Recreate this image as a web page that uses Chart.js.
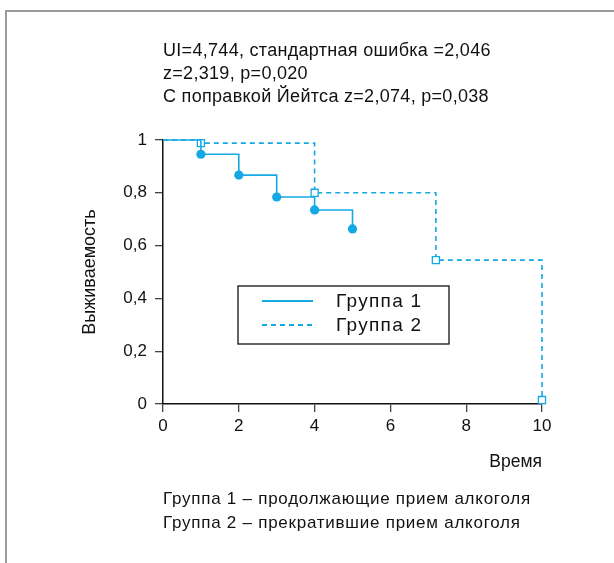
<!DOCTYPE html>
<html>
<head>
<meta charset="utf-8">
<script src="https://cdn.jsdelivr.net/npm/chart.js@4/dist/chart.umd.min.js"></script>
<style>
  html, body { margin: 0; padding: 0; background: #fff; }
  canvas { display: block; }
</style>
</head>
<body>
<canvas id="km" width="614" height="563"></canvas>
<script>
// Kaplan–Meier survival estimates for the two groups
const group1Time = [0, 1, 2, 3, 4, 5];
const group1Surv = [1, 0.946, 0.867, 0.784, 0.735, 0.663];
const group2Time = [0, 1, 4, 7.2, 10];
const group2Surv = [1, 0.988, 0.80, 0.545, 0.015];
const seriesNames = ['Группа 1', 'Группа 2'];

const xTicks = [0, 2, 4, 6, 8, 10];
const yTicks = [0, 0.2, 0.4, 0.6, 0.8, 1];
const yTickLabels = ['0', '0,2', '0,4', '0,6', '0,8', '1'];

const headerLines = [
  'UI=4,744, стандартная ошибка =2,046',
  'z=2,319, p=0,020',
  'С поправкой Йейтса z=2,074, p=0,038'
];
const noteLines = [
  'Группа 1 – продолжающие прием алкоголя',
  'Группа 2 – прекратившие прием алкоголя'
];

const BLUE = '#14a9e4';
const FONT = '"Liberation Sans", Arial, Helvetica, sans-serif';

const toPoints = (xs, ys) => xs.map((x, i) => ({ x, y: ys[i] }));
// no marker on the starting point of each curve
const markerRadii = (xs, r) => xs.map((_, i) => (i === 0 ? 0 : r));

function setSpacing(ctx, px) {
  if ('letterSpacing' in ctx) ctx.letterSpacing = px + 'px';
}

// page frame, header statistics, custom legend and footnotes
const decorations = {
  id: 'decorations',
  beforeDraw(chart) {
    const { ctx, width, height } = chart;
    ctx.save();
    ctx.fillStyle = '#fff';
    ctx.fillRect(0, 0, width, height);
    ctx.strokeStyle = '#9c9c9c';
    ctx.lineWidth = 2;
    ctx.beginPath();
    ctx.moveTo(width, 11);
    ctx.lineTo(6, 11);
    ctx.lineTo(6, height);
    ctx.stroke();
    ctx.restore();
  },
  afterDraw(chart) {
    const { ctx, chartArea } = chart;
    const left = chartArea.left;
    ctx.save();
    ctx.fillStyle = '#111';
    ctx.textAlign = 'left';
    ctx.textBaseline = 'alphabetic';
    ctx.font = '18px ' + FONT;
    setSpacing(ctx, 0.3);
    headerLines.forEach((t, i) => ctx.fillText(t, left, 56 + i * 23));
    ctx.font = '17px ' + FONT;
    setSpacing(ctx, 0.75);
    noteLines.forEach((t, i) => ctx.fillText(t, left, 504 + i * 24));

    // legend box
    setSpacing(ctx, 0);
    const bx = 238, by = 286, bw = 211, bh = 58;
    ctx.strokeStyle = '#111';
    ctx.lineWidth = 1.3;
    ctx.strokeRect(bx, by, bw, bh);
    const rows = [301, 325];
    chart.data.datasets.forEach((ds, i) => {
      ctx.strokeStyle = ds.borderColor;
      ctx.lineWidth = 2.2;
      ctx.setLineDash(ds.borderDash || []);
      ctx.beginPath();
      ctx.moveTo(262, rows[i]);
      ctx.lineTo(313, rows[i]);
      ctx.stroke();
      ctx.setLineDash([]);
      ctx.fillStyle = '#111';
      ctx.font = '19px ' + FONT;
      setSpacing(ctx, 1.3);
      ctx.textBaseline = 'middle';
      ctx.fillText(ds.label, 336, rows[i] + 1);
      setSpacing(ctx, 0);
    });
    ctx.restore();
  }
};

new Chart(document.getElementById('km'), {
  type: 'scatter',
  data: {
    datasets: [
      {
        label: seriesNames[0],
        data: toPoints(group1Time, group1Surv),
        showLine: true,
        stepped: 'before',
        borderColor: BLUE,
        borderWidth: 1.6,
        pointStyle: 'circle',
        pointRadius: markerRadii(group1Time, 4.6),
        pointBackgroundColor: BLUE,
        pointBorderColor: BLUE,
        pointBorderWidth: 0,
        clip: false
      },
      {
        label: seriesNames[1],
        data: toPoints(group2Time, group2Surv),
        showLine: true,
        stepped: 'before',
        borderColor: BLUE,
        borderWidth: 1.6,
        borderDash: [5, 4],
        pointStyle: 'rect',
        pointRadius: markerRadii(group2Time, 5),
        pointBackgroundColor: '#fff',
        pointBorderColor: BLUE,
        pointBorderWidth: 1.3,
        clip: false
      }
    ]
  },
  options: {
    responsive: false,
    animation: false,
    devicePixelRatio: 1,
    layout: { padding: { left: 77, top: 140, right: 72, bottom: 89 } },
    plugins: {
      legend: { display: false },
      tooltip: { enabled: false }
    },
    scales: {
      x: {
        type: 'linear',
        min: 0,
        max: 10,
        afterFit: s => { s.height = 70; },
        afterBuildTicks: s => { s.ticks = xTicks.map(v => ({ value: v })); },
        ticks: {
          color: '#111',
          font: { family: FONT, size: 17 },
          padding: 4,
          maxRotation: 0,
          callback: v => String(v)
        },
        grid: {
          display: true,
          drawOnChartArea: false,
          drawTicks: true,
          tickLength: 8,
          color: '#444',
          lineWidth: 1.3
        },
        border: { display: true, color: '#111', width: 1.5 },
        title: {
          display: true,
          text: 'Время',
          align: 'end',
          color: '#111',
          font: { family: FONT, size: 17.5 },
          padding: { top: 0, bottom: 1 }
        }
      },
      y: {
        type: 'linear',
        min: 0,
        max: 1,
        afterFit: s => { s.width = 86; },
        afterBuildTicks: s => { s.ticks = yTicks.map(v => ({ value: v })); },
        ticks: {
          color: '#111',
          font: { family: FONT, size: 17 },
          padding: 8,
          callback: (v, i) => yTickLabels[i]
        },
        grid: {
          display: true,
          drawOnChartArea: false,
          drawTicks: true,
          tickLength: 8,
          color: '#444',
          lineWidth: 1.3
        },
        border: { display: true, color: '#111', width: 1.5 },
        title: {
          display: true,
          text: 'Выживаемость',
          color: '#111',
          font: { family: FONT, size: 18 },
          padding: { top: 2, bottom: 0 }
        }
      }
    }
  },
  plugins: [decorations]
});
</script>
</body>
</html>
